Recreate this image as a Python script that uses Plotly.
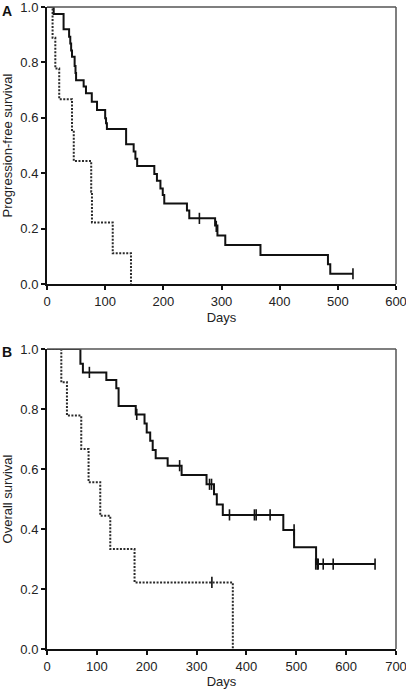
import plotly.graph_objects as go

# ---------------- Panel A: progression-free survival ----------------
pfs_grp1_days = [0, 11.5, 28.5, 38, 40, 41.5, 43, 47.5, 49, 50, 63, 67, 77, 86, 100, 101.5, 103,
                 136, 149, 152, 155, 184.5, 189, 195, 199, 201.6, 240.6, 244.6, 289, 293,
                 306.5, 367, 483, 487, 526]
pfs_grp1_surv = [1.0, 0.975, 0.92, 0.893, 0.868, 0.843, 0.82, 0.787, 0.762, 0.736, 0.713, 0.689,
                 0.658, 0.628, 0.598, 0.58, 0.56, 0.505, 0.478, 0.452, 0.426, 0.397, 0.373,
                 0.345, 0.321, 0.291, 0.265, 0.237, 0.211, 0.175, 0.141, 0.105, 0.071, 0.037,
                 0.037]
pfs_grp1_cens_days = [262, 291, 526]
pfs_grp1_cens_surv = [0.237, 0.208, 0.037]

pfs_grp2_days = [0, 9.6, 14.3, 21, 43, 46, 76, 77.3, 113, 144.4]
pfs_grp2_surv = [1.0, 0.889, 0.778, 0.667, 0.556, 0.444, 0.333, 0.222, 0.111, 0.0]

# ---------------- Panel B: overall survival ----------------
os_grp1_days = [0, 67, 72, 119, 139, 143.6, 178, 195.6, 200, 207, 212, 218, 242, 270, 320,
                335, 340.6, 352.6, 474, 495.6, 539.7, 658]
os_grp1_surv = [1.0, 0.951, 0.922, 0.897, 0.869, 0.81, 0.782, 0.752, 0.722, 0.694, 0.663,
                0.636, 0.611, 0.58, 0.549, 0.516, 0.482, 0.447, 0.397, 0.339, 0.283, 0.283]
os_grp1_cens_days = [85, 180, 266, 326, 330, 366, 416, 419.5, 447.5, 495.6, 539, 542, 544,
                     554, 574, 658]
os_grp1_cens_surv = [0.922, 0.782, 0.611, 0.549, 0.549, 0.447, 0.447, 0.447, 0.447, 0.397,
                     0.283, 0.283, 0.283, 0.283, 0.283, 0.283]

os_grp2_days = [0, 28.7, 40, 68.7, 83.4, 106.8, 126.9, 175.6, 372.7]
os_grp2_surv = [1.0, 0.889, 0.778, 0.667, 0.556, 0.444, 0.333, 0.222, 0.0]
os_grp2_cens_days = [330.7]
os_grp2_cens_surv = [0.222]

x_ticks_a = [0, 100, 200, 300, 400, 500, 600]
x_ticks_b = [0, 100, 200, 300, 400, 500, 600, 700]
y_ticks = [0.0, 0.2, 0.4, 0.6, 0.8, 1.0]
y_tick_labels = ["0.0", "0.2", "0.4", "0.6", "0.8", "1.0"]

FONT = "Liberation Sans, Arial, sans-serif"
solid_line = dict(color="#111111", width=2, shape="hv")
dot_line = dict(color="#2a2a2a", width=2, shape="hv", dash="2px,1.5px")
cens_marker = dict(symbol="line-ns", size=8, color="#111111",
                   line=dict(width=1.6, color="#111111"))

fig = go.Figure()
fig.add_trace(go.Scatter(x=pfs_grp1_days, y=pfs_grp1_surv, mode="lines", line=solid_line,
                         xaxis="x", yaxis="y", showlegend=False))
fig.add_trace(go.Scatter(x=pfs_grp2_days, y=pfs_grp2_surv, mode="lines", line=dot_line,
                         xaxis="x", yaxis="y", showlegend=False))
fig.add_trace(go.Scatter(x=pfs_grp1_cens_days, y=pfs_grp1_cens_surv, mode="markers",
                         marker=cens_marker, xaxis="x", yaxis="y", showlegend=False))

fig.add_trace(go.Scatter(x=os_grp1_days, y=os_grp1_surv, mode="lines", line=solid_line,
                         xaxis="x2", yaxis="y2", showlegend=False))
fig.add_trace(go.Scatter(x=os_grp2_days, y=os_grp2_surv, mode="lines", line=dot_line,
                         xaxis="x2", yaxis="y2", showlegend=False))
fig.add_trace(go.Scatter(x=os_grp1_cens_days, y=os_grp1_cens_surv, mode="markers",
                         marker=cens_marker, xaxis="x2", yaxis="y2", showlegend=False))
fig.add_trace(go.Scatter(x=os_grp2_cens_days, y=os_grp2_cens_surv, mode="markers",
                         marker=cens_marker, xaxis="x2", yaxis="y2", showlegend=False))

axis_common = dict(showline=True, linecolor="#111111", linewidth=2, ticks="outside",
                   ticklen=4, tickwidth=1.5, tickcolor="#111111", showgrid=False,
                   zeroline=False, tickfont=dict(family=FONT, size=13, color="#222222"),
                   automargin=False, ticklabeloverflow="allow")

fig.update_layout(
    width=406, height=689,
    margin=dict(l=47, r=10, t=7, b=40),
    paper_bgcolor="white", plot_bgcolor="white",
    font=dict(family=FONT, size=13, color="#222222"),
    xaxis=dict(domain=[0, 1], anchor="y", range=[0, 600], tickvals=x_ticks_a,
               title=dict(text="Days", standoff=5, font=dict(size=13)), **axis_common),
    yaxis=dict(domain=[0.5685, 1.0], anchor="x", range=[0, 1.0], tickvals=y_ticks,
               ticktext=y_tick_labels,
               title=dict(text="Progression-free survival", standoff=7, font=dict(size=13)),
               **axis_common),
    xaxis2=dict(domain=[0, 1], anchor="y2", range=[0, 700], tickvals=x_ticks_b,
                title=dict(text="Days", standoff=5, font=dict(size=13)), **axis_common),
    yaxis2=dict(domain=[0, 0.4673], anchor="x2", range=[0, 1.0], tickvals=y_ticks,
                ticktext=y_tick_labels,
                title=dict(text="Overall survival", standoff=7, font=dict(size=13)),
                **axis_common),
)

# thin grey frame on top and right of each panel
for xr, yr in [("x domain", "y domain"), ("x2 domain", "y2 domain")]:
    fig.add_shape(type="line", xref=xr, yref=yr, x0=0, x1=1, y0=1, y1=1,
                  line=dict(color="#555555", width=1.5))
    fig.add_shape(type="line", xref=xr, yref=yr, x0=1, x1=1, y0=0, y1=1,
                  line=dict(color="#555555", width=1.5))

fig.add_annotation(text="<b>A</b>", xref="paper", yref="paper", x=-0.1146, y=0.9938,
                   xanchor="center", yanchor="middle", showarrow=False,
                   font=dict(family=FONT, size=14, color="#111111"))
fig.add_annotation(text="<b>B</b>", xref="paper", yref="paper", x=-0.1146, y=0.4626,
                   xanchor="center", yanchor="middle", showarrow=False,
                   font=dict(family=FONT, size=14, color="#111111"))

fig.write_html(
    "out.html",
    config={"displayModeBar": False},
    post_script="document.body.style.margin='0';document.body.style.overflow='hidden';",
)
